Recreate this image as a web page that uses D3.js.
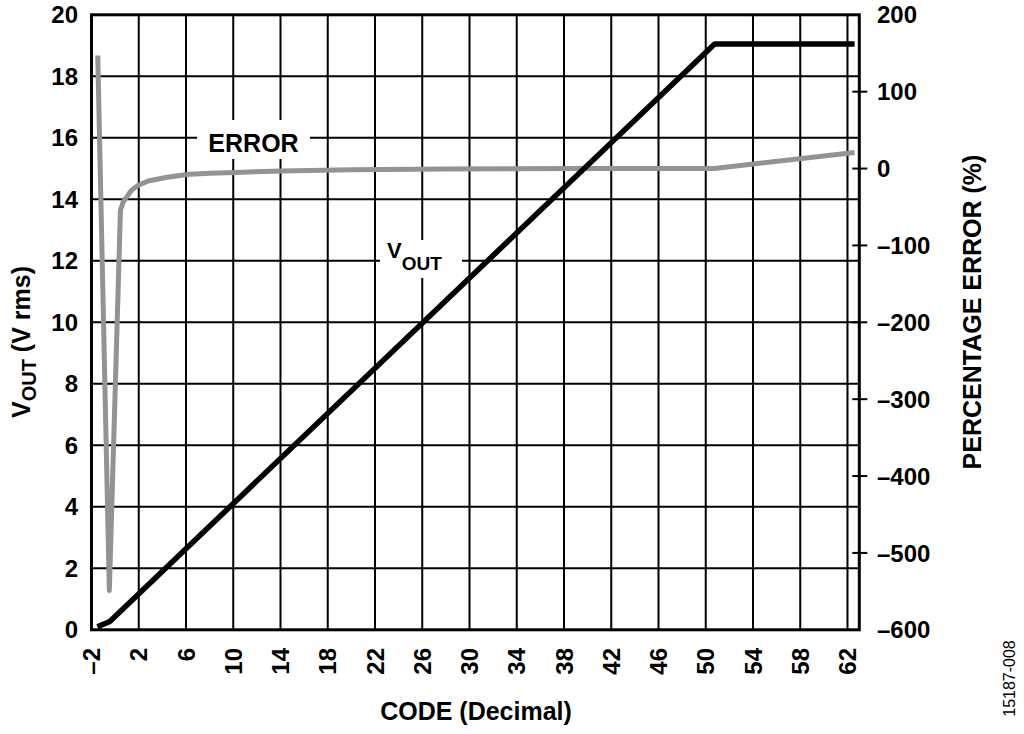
<!DOCTYPE html>
<html>
<head>
<meta charset="utf-8">
<script src="https://cdn.jsdelivr.net/npm/d3@7"></script>
<style>
	body { margin: 0; background: #fff; }
	text { font-family: "Liberation Sans", Arial, sans-serif; font-weight: bold; fill: #000; }
</style>
</head>
<body>
<script>
"use strict";

// VOUT curve (left axis, V rms)
var voutCode = [-1.5, -0.45, 50.75, 62.6];
var voutVal = [0.1, 0.27, 19.05, 19.05];

// percentage error curve (right axis)
var errCode = [-1.47, -0.49, 0.45, 0.7, 1.4, 2.0, 2.8, 4.4, 6.3, 8, 10.2, 14.1, 20, 28, 40, 50.75, 62.6];
var errVal = [147, -549, -54, -43, -28, -21.4, -16.2, -11.4, -7.4, -6, -5, -3.2, -1.5, -0.5, 0, 0, 21];

var xTicks = [-2, 2, 6, 10, 14, 18, 22, 26, 30, 34, 38, 42, 46, 50, 54, 58, 62];
var yLeftTicks = [0, 2, 4, 6, 8, 10, 12, 14, 16, 18, 20];
var yRightTicks = [-600, -500, -400, -300, -200, -100, 0, 100, 200];

var W = 1024, H = 734;
var pLeft = 91.5, pRight = 859.3, pTop = 14.8, pBottom = 629.8;

var svg = d3.select("body").append("svg")
	.attr("width", W)
	.attr("height", H);

var x = d3.scaleLinear().domain([-2, 63]).range([pLeft, pRight]);
var yL = d3.scaleLinear().domain([0, 20]).range([pBottom, pTop]);
var yR = d3.scaleLinear().domain([-600, 200]).range([pBottom, pTop]);

// grid
var grid = svg.append("g").attr("stroke", "#000").attr("stroke-width", 2);
grid.selectAll(".vg")
	.data(xTicks.filter(function(d) { return d > -2; }))
	.enter().append("line")
	.attr("x1", function(d) { return x(d); })
	.attr("x2", function(d) { return x(d); })
	.attr("y1", pTop)
	.attr("y2", pBottom);
grid.selectAll(".hg")
	.data(yLeftTicks.filter(function(d) { return d > 0 && d < 20; }))
	.enter().append("line")
	.attr("x1", pLeft)
	.attr("x2", pRight)
	.attr("y1", function(d) { return yL(d); })
	.attr("y2", function(d) { return yL(d); });

// right axis ticks across frame
grid.selectAll(".rt")
	.data(yRightTicks.filter(function(d) { return d > -600 && d < 200; }))
	.enter().append("line")
	.attr("x1", pRight - 7)
	.attr("x2", pRight + 8)
	.attr("y1", function(d) { return yR(d); })
	.attr("y2", function(d) { return yR(d); });

// label knockouts
svg.append("rect").attr("x", 197).attr("y", 120).attr("width", 113).attr("height", 39).attr("fill", "#fff");
svg.append("rect").attr("x", 380).attr("y", 240).attr("width", 82).attr("height", 38).attr("fill", "#fff");

svg.append("rect")
	.attr("x", pLeft).attr("y", pTop)
	.attr("width", pRight - pLeft).attr("height", pBottom - pTop)
	.attr("fill", "none").attr("stroke", "#000").attr("stroke-width", 3);

var errLine = d3.line()
	.x(function(d, i) { return x(errCode[i]); })
	.y(function(d) { return yR(d); });
svg.append("path")
	.datum(errVal)
	.attr("d", errLine)
	.attr("fill", "none")
	.attr("stroke", "#939393")
	.attr("stroke-width", 5)
	.attr("stroke-linejoin", "round");

var voutLine = d3.line()
	.x(function(d, i) { return x(voutCode[i]); })
	.y(function(d) { return yL(d); });
svg.append("path")
	.datum(voutVal)
	.attr("d", voutLine)
	.attr("fill", "none")
	.attr("stroke", "#000")
	.attr("stroke-width", 5.5)
	.attr("stroke-linejoin", "round");

// tick labels
svg.selectAll(".xl")
	.data(xTicks)
	.enter().append("text")
	.attr("transform", function(d) { return "translate(" + x(d) + ",648) rotate(-90)"; })
	.attr("text-anchor", "end")
	.attr("dy", "0.36em")
	.attr("font-size", 24)
	.text(function(d) { return d < 0 ? "\u2013" + Math.abs(d) : d; });

svg.selectAll(".yl")
	.data(yLeftTicks)
	.enter().append("text")
	.attr("x", 78)
	.attr("y", function(d) { return yL(d); })
	.attr("dy", "0.36em")
	.attr("text-anchor", "end")
	.attr("font-size", 24)
	.text(function(d) { return d; });

svg.selectAll(".yr")
	.data(yRightTicks)
	.enter().append("text")
	.attr("x", 877)
	.attr("y", function(d) { return yR(d); })
	.attr("dy", "0.36em")
	.attr("font-size", 24)
	.text(function(d) { return d < 0 ? "\u2013" + Math.abs(d) : d; });

// titles
svg.append("text")
	.attr("x", 476).attr("y", 720)
	.attr("text-anchor", "middle")
	.attr("font-size", 25)
	.text("CODE (Decimal)");

var lt = svg.append("text")
	.attr("transform", "translate(30,342) rotate(-90)")
	.attr("text-anchor", "middle")
	.attr("font-size", 25);
lt.append("tspan").text("V");
lt.append("tspan").attr("dy", 6).attr("font-size", 20).text("OUT");
lt.append("tspan").attr("dy", -6).text(" (V rms)");

svg.append("text")
	.attr("transform", "translate(981,312) rotate(-90)")
	.attr("text-anchor", "middle")
	.attr("font-size", 25)
	.text("PERCENTAGE ERROR (%)");

svg.append("text")
	.attr("x", 253.5).attr("y", 151.5)
	.attr("text-anchor", "middle")
	.attr("font-size", 25)
	.text("ERROR");

var vl = svg.append("text")
	.attr("x", 387).attr("y", 258)
	.attr("font-size", 22);
vl.append("tspan").text("V");
vl.append("tspan").attr("dy", 12).attr("font-size", 19).text("OUT");

svg.append("text")
	.attr("transform", "translate(1015,678.5) rotate(-90)")
	.attr("text-anchor", "middle")
	.attr("font-size", 16)
	.style("font-weight", "normal")
	.text("15187-008");
</script>
</body>
</html>
